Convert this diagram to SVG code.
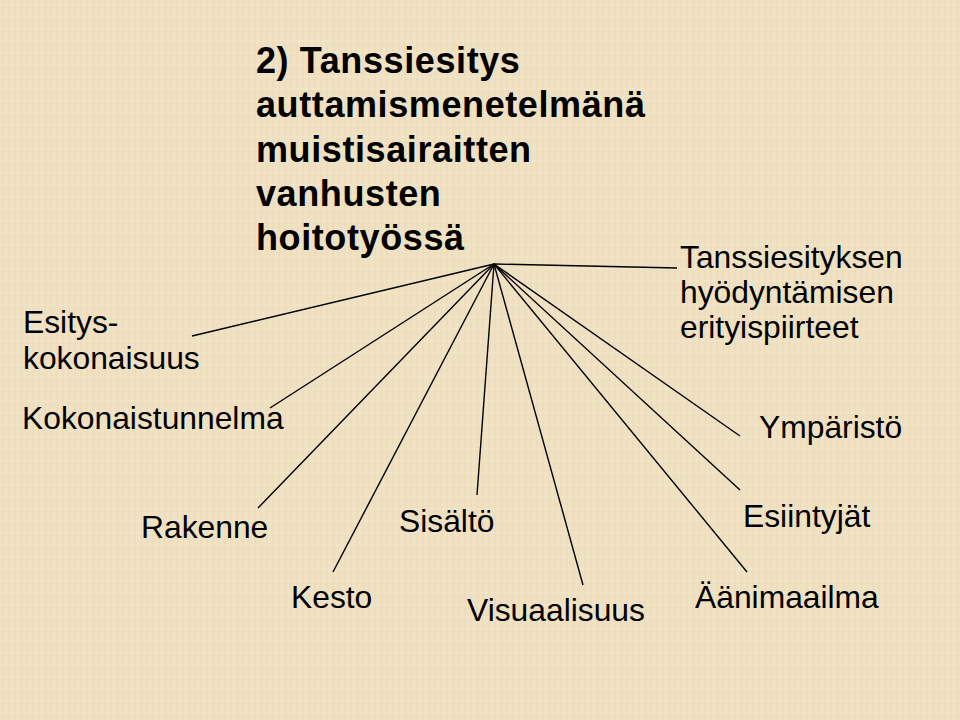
<svg xmlns="http://www.w3.org/2000/svg" width="960" height="720" viewBox="0 0 960 720">
<defs>
<style>
.bg{fill:#efe1c1}
.title{font-family:"Liberation Sans",Arial,sans-serif;font-weight:bold;font-size:36px;letter-spacing:0.6px;fill:#000}
.lbl{font-family:"Liberation Sans",Arial,sans-serif;font-size:31.8px;fill:#000}
.conn line{stroke:#000;stroke-width:1.4;fill:none}
</style>
<pattern id="tex" width="12" height="12" patternUnits="userSpaceOnUse">
<rect width="12" height="12" fill="#efe1c1"/>
<path d="M3 0V12M9 0V12" stroke="#e6d6b2" stroke-width="1" opacity="0.6"/>
<path d="M0 5H12" stroke="#f6ebd2" stroke-width="1" opacity="0.6"/>
</pattern>
</defs>
<rect class="bg" width="960" height="720"/>
<rect width="960" height="720" fill="url(#tex)"/>
<g id="connectors" class="conn">
<line x1="494" y1="264" x2="677" y2="268"/>
<line x1="494" y1="264" x2="192" y2="336"/>
<line x1="494" y1="264" x2="270" y2="408"/>
<line x1="494" y1="264" x2="258" y2="508"/>
<line x1="494" y1="264" x2="333" y2="572"/>
<line x1="494" y1="264" x2="477" y2="495"/>
<line x1="494" y1="264" x2="583" y2="585"/>
<line x1="494" y1="264" x2="740" y2="436"/>
<line x1="494" y1="264" x2="740" y2="490"/>
<line x1="494" y1="264" x2="747" y2="572"/>
</g>
<g id="title">
<text class="title" x="256" y="73">2) Tanssiesitys</text>
<text class="title" x="256" y="117">auttamismenetelmänä</text>
<text class="title" x="256" y="162">muistisairaitten</text>
<text class="title" x="256" y="206">vanhusten</text>
<text class="title" x="256" y="250">hoitotyössä</text>
</g>
<g id="node-erityispiirteet">
<text class="lbl" x="680" y="268">Tanssiesityksen</text>
<text class="lbl" x="680" y="303">hyödyntämisen</text>
<text class="lbl" x="680" y="338">erityispiirteet</text>
</g>
<g id="node-esityskokonaisuus">
<text class="lbl" x="23" y="333">Esitys-</text>
<text class="lbl" x="23" y="369">kokonaisuus</text>
</g>
<g id="node-kokonaistunnelma">
<text class="lbl" x="22" y="429">Kokonaistunnelma</text>
</g>
<g id="node-ymparisto">
<text class="lbl" x="759" y="438">Ympäristö</text>
</g>
<g id="node-rakenne">
<text class="lbl" x="141" y="538">Rakenne</text>
</g>
<g id="node-sisalto">
<text class="lbl" x="399" y="532">Sisältö</text>
</g>
<g id="node-esiintyjat">
<text class="lbl" x="743" y="527">Esiintyjät</text>
</g>
<g id="node-kesto">
<text class="lbl" x="291" y="608">Kesto</text>
</g>
<g id="node-visuaalisuus">
<text class="lbl" x="467" y="621">Visuaalisuus</text>
</g>
<g id="node-aanimaailma">
<text class="lbl" x="695" y="608">Äänimaailma</text>
</g>
</svg>
